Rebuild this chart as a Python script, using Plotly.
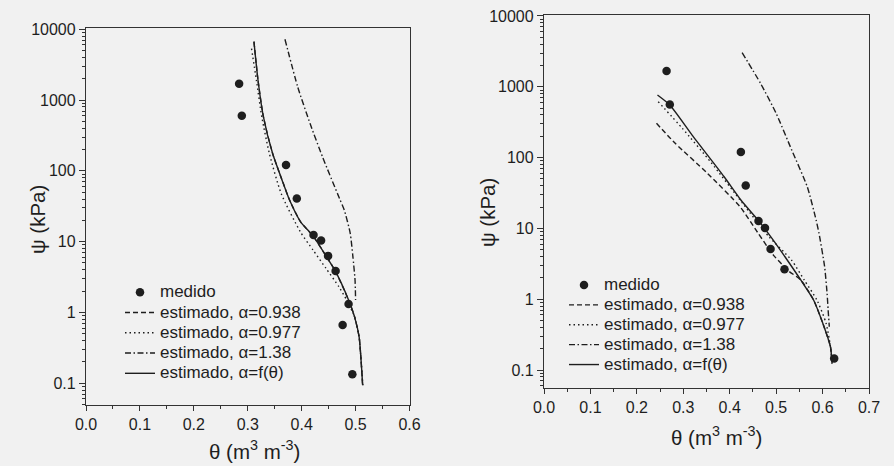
import plotly.graph_objects as go

# ---------------- data ----------------
# Left panel
L_meas_theta = [0.284, 0.289, 0.371, 0.391, 0.422, 0.436, 0.449, 0.463, 0.487, 0.476, 0.494]
L_meas_psi = [1700, 600, 121, 40.6, 12.4, 10.4, 6.3, 3.86, 1.32, 0.667, 0.134]

L_f_theta = [0.3115, 0.319, 0.329, 0.346, 0.366, 0.3775, 0.398, 0.422, 0.446, 0.463, 0.487, 0.498, 0.5065, 0.511, 0.513]
L_f_psi = [6680, 1920, 583, 177, 66.2, 38.8, 19.1, 11.8, 6.14, 3.77, 1.50, 0.873, 0.455, 0.171, 0.095]

L_a0938_theta = L_f_theta
L_a0938_psi = L_f_psi

L_a0977_theta = [0.307, 0.316, 0.326, 0.340, 0.362, 0.3975, 0.421, 0.445, 0.469, 0.4835, 0.498, 0.5065, 0.511, 0.514]
L_a0977_psi = [5340, 1920, 583, 177, 47.8, 13.8, 7.63, 4.21, 2.31, 1.50, 0.873, 0.455, 0.171, 0.088]

L_a138_theta = [0.369, 0.3927, 0.4156, 0.4386, 0.470, 0.479, 0.490, 0.495, 0.499, 0.500]
L_a138_psi = [7220, 1531, 466, 158, 41, 28, 13.2, 6.14, 2.88, 1.50]

# Right panel
R_meas_theta = [0.264, 0.271, 0.424, 0.4345, 0.462, 0.476, 0.488, 0.518, 0.625]
R_meas_psi = [1671, 562, 120, 40.4, 12.7, 10.1, 5.12, 2.64, 0.1455]

R_f_theta = [0.2444, 0.271, 0.319, 0.388, 0.424, 0.464, 0.491, 0.519, 0.553, 0.5806, 0.6005, 0.617, 0.6205]
R_f_psi = [766, 553, 208, 53.7, 25.2, 12.4, 7.24, 3.98, 1.87, 0.975, 0.457, 0.213, 0.124]

R_a0938_theta = [0.2423, 0.2826, 0.352, 0.422, 0.460, 0.494, 0.527, 0.553, 0.5806, 0.6005, 0.617, 0.6205]
R_a0938_psi = [305, 159, 60, 20.3, 8.8, 4.2, 2.5, 1.87, 0.975, 0.457, 0.213, 0.124]

R_a0977_theta = [0.246, 0.298, 0.36, 0.427, 0.4844, 0.533, 0.5604, 0.5878, 0.6076, 0.617, 0.6205]
R_a0977_psi = [616, 259, 85, 23, 7.64, 3.58, 1.87, 0.975, 0.457, 0.213, 0.124]

R_a138_theta = [0.4267, 0.4663, 0.500, 0.5335, 0.567, 0.586, 0.5923, 0.6044, 0.6097, 0.612, 0.6145]
R_a138_psi = [3033, 1120, 422, 128, 38.8, 13.2, 8.53, 2.88, 1.21, 0.703, 0.409]

legend_names = ["medido", "estimado, \u03b1=0.938", "estimado, \u03b1=0.977",
                "estimado, \u03b1=1.38", "estimado, \u03b1=f(\u03b8)"]
y_tickvals = [0.1, 1, 10, 100, 1000, 10000]
y_ticktext = ["0.1", "1", "10", "100", "1000", "10000"]
x_title = "\u03b8 (m<sup>3</sup> m<sup>-3</sup>)"
y_title = "\u03c8 (kPa)"

# ---------------- styling ----------------
INK = "#1e1e1e"
FONT = "Liberation Sans, Arial, sans-serif"
BG = "#f1f1f1"

def nm(s):
    return '<span style="font-size:17px">' + s + '</span>'

fig = go.Figure()

panels = [
    ("x", "y", "legend", L_meas_theta, L_meas_psi,
     [(L_a0938_theta, L_a0938_psi, "dash"), (L_a0977_theta, L_a0977_psi, "dot"),
      (L_a138_theta, L_a138_psi, "dashdot"), (L_f_theta, L_f_psi, "solid")]),
    ("x2", "y2", "legend2", R_meas_theta, R_meas_psi,
     [(R_a0938_theta, R_a0938_psi, "dash"), (R_a0977_theta, R_a0977_psi, "dot"),
      (R_a138_theta, R_a138_psi, "dashdot"), (R_f_theta, R_f_psi, "solid")]),
]

for xa, ya, lg, mt, mp, curves in panels:
    fig.add_trace(go.Scatter(x=mt, y=mp, mode="markers", name=nm(legend_names[0]),
                             marker=dict(color=INK, size=8.5), xaxis=xa, yaxis=ya, legend=lg))
    for i, (tx, ty, dash) in enumerate(curves):
        d = {"dash": "5px,3px", "dot": "1.5px,3px", "dashdot": "6px,2.5px,1.5px,2.5px", "solid": "solid"}[dash]
        fig.add_trace(go.Scatter(x=tx, y=ty, mode="lines", name=nm(legend_names[i + 1]),
                                 line=dict(color=INK, width=1.4, dash=d, shape="spline", smoothing=0.6),
                                 xaxis=xa, yaxis=ya, legend=lg))

minor_y = [m * 10 ** e for e in range(-2, 5) for m in range(2, 10)]

def xaxis(domain, rng, dtick_vals, anchor):
    return dict(domain=domain, range=rng, anchor=anchor, automargin=False,
                showline=True, mirror=True, linecolor="#333",
                linewidth=1.3, ticks="outside", ticklen=5, tickwidth=1.2, tickcolor="#333",
                tickmode="array", tickvals=dtick_vals, ticktext=["%.1f" % v for v in dtick_vals],
                minor=dict(ticks="outside", ticklen=3, tickcolor="#333", dtick=0.05, tick0=0),
                showgrid=False, zeroline=False,
                tickfont=dict(family=FONT, size=16, color=INK))

def yaxis(domain, rng, anchor):
    return dict(domain=domain, type="log", range=rng, anchor=anchor, automargin=False,
                showline=True, mirror=True,
                linecolor="#333", linewidth=1.3, ticks="outside", ticklen=6, tickwidth=1.2,
                tickcolor="#333", tickmode="array", tickvals=y_tickvals, ticktext=y_ticktext,
                minor=dict(ticks="outside", ticklen=3, tickcolor="#333", tickmode="array",
                           tickvals=minor_y),
                showgrid=False, zeroline=False,
                tickfont=dict(family=FONT, size=16, color=INK))

W, H = 894, 466
fig.update_layout(
    template="none",
    width=W, height=H, margin=dict(l=0, r=0, t=0, b=0, pad=0, autoexpand=False),
    paper_bgcolor=BG, plot_bgcolor=BG,
    font=dict(family=FONT, color=INK),
    xaxis=xaxis([86 / W, 409.5 / W], [0, 0.6], [0, 0.1, 0.2, 0.3, 0.4, 0.5, 0.6], "y"),
    yaxis=yaxis([61 / H, 438 / H], [-1.307, 4.018], "x"),
    xaxis2=xaxis([544 / W, 869 / W], [0, 0.7], [0, 0.1, 0.2, 0.3, 0.4, 0.5, 0.6, 0.7], "y2"),
    yaxis2=yaxis([78 / H, 451 / H], [-1.254, 4.014], "x2"),
    legend=dict(x=120 / W, y=1 - 277 / H, xanchor="left", yanchor="top",
                bgcolor="rgba(0,0,0,0)", font=dict(family=FONT, size=13.3, color=INK)),
    legend2=dict(x=564 / W, y=1 - 270 / H, xanchor="left", yanchor="top",
                 bgcolor="rgba(0,0,0,0)", font=dict(family=FONT, size=13.0, color=INK)),
    showlegend=True,
)

tf = dict(family=FONT, size=20.5, color=INK)
fig.add_annotation(text=x_title, x=254 / W, y=1 - 450 / H, xref="paper", yref="paper",
                   xanchor="center", yanchor="middle", showarrow=False, font=tf)
fig.add_annotation(text=x_title, x=716 / W, y=1 - 436 / H, xref="paper", yref="paper",
                   xanchor="center", yanchor="middle", showarrow=False, font=tf)
fig.add_annotation(text=y_title, x=37 / W, y=1 - 220 / H, xref="paper", yref="paper",
                   xanchor="center", yanchor="middle", showarrow=False, font=tf, textangle=-90)
fig.add_annotation(text=y_title, x=487 / W, y=1 - 213 / H, xref="paper", yref="paper",
                   xanchor="center", yanchor="middle", showarrow=False, font=tf, textangle=-90)

fig.write_html("out.html")
